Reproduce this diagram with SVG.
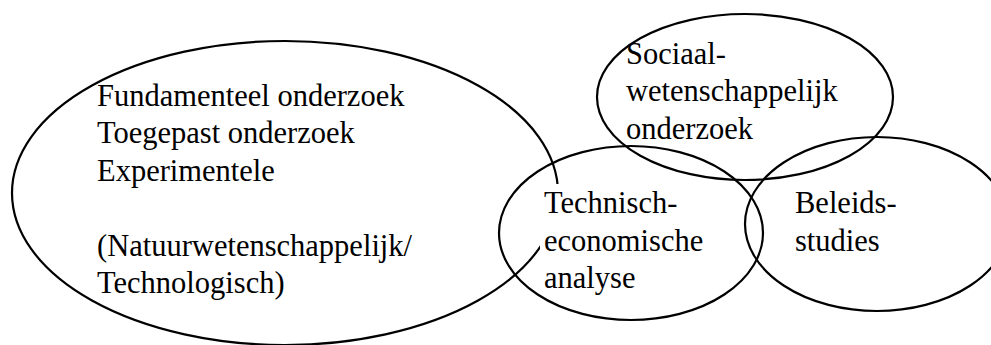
<svg xmlns="http://www.w3.org/2000/svg" width="991" height="345" viewBox="0 0 991 345">
  <style>
    .ring { fill: none; stroke: #000; stroke-width: 2.2; }
    .lbl { font-family: 'Liberation Serif', serif; font-size: 30.5px; fill: #000; }
  </style>
  <defs>
    <!-- the text frame of the analysis label hides part of the large ellipse -->
    <mask id="frame-cut" maskUnits="userSpaceOnUse" x="0" y="0" width="991" height="345">
      <rect x="0" y="0" width="991" height="345" fill="#fff"/>
      <rect x="540" y="184" width="60" height="90" fill="#000"/>
    </mask>
  </defs>
  <rect width="991" height="345" fill="#fff"/>

  <g id="natuurwetenschappelijk">
    <ellipse class="ring" cx="285" cy="193" rx="273" ry="152" mask="url(#frame-cut)"/>
    <text class="lbl" font-family="Liberation Serif, serif">
      <tspan x="97" y="105.5">Fundamenteel onderzoek</tspan>
      <tspan x="97" y="143">Toegepast onderzoek</tspan>
      <tspan x="97" y="180.5">Experimentele</tspan>
      <tspan x="97" y="255.5">(Natuurwetenschappelijk/</tspan>
      <tspan x="97" y="293">Technologisch)</tspan>
    </text>
  </g>

  <g id="sociaalwetenschappelijk">
    <ellipse class="ring" cx="745" cy="97" rx="148" ry="83"/>
    <text class="lbl" font-family="Liberation Serif, serif">
      <tspan x="626" y="63.5">Sociaal-</tspan>
      <tspan x="626" y="101">wetenschappelijk</tspan>
      <tspan x="626" y="138.5">onderzoek</tspan>
    </text>
  </g>

  <g id="technisch-economisch">
    <ellipse class="ring" cx="631" cy="233" rx="132" ry="87"/>
    <text class="lbl" font-family="Liberation Serif, serif">
      <tspan x="544" y="213">Technisch-</tspan>
      <tspan x="544" y="250.5">economische</tspan>
      <tspan x="544" y="288">analyse</tspan>
    </text>
  </g>

  <g id="beleidsstudies">
    <ellipse class="ring" cx="877" cy="224" rx="132" ry="87"/>
    <text class="lbl" font-family="Liberation Serif, serif">
      <tspan x="795" y="213">Beleids-</tspan>
      <tspan x="795" y="250.5">studies</tspan>
    </text>
  </g>
</svg>
